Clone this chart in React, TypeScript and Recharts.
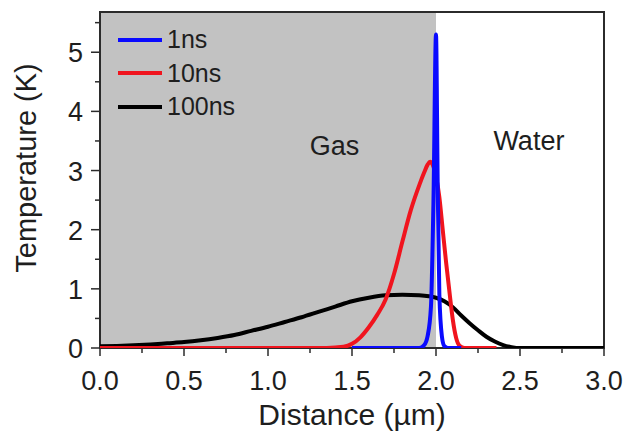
import {
  LineChart,
  Line,
  XAxis,
  YAxis,
  ReferenceArea,
  ReferenceDot,
  Legend,
  Label,
} from "recharts";

const FONT = '"Liberation Sans", Arial, Helvetica, sans-serif';
const AXIS = "#2b2b2b";
const TEXT = "#1e1e1e";

// distance (µm) / temperature rise (K) per pulse delay
const dist1ns = [1.5, 1.9, 1.93, 1.95, 1.97, 1.985, 2.0, 2.01, 2.02, 2.035, 2.05, 2.07, 2.15];
const temp1ns = [0, 0, 0.05, 0.2, 0.7, 2.5, 5.3, 2.8, 0.9, 0.2, 0.03, 0, 0];

const dist10ns = [
  0, 1.35, 1.45, 1.5, 1.55, 1.6, 1.65, 1.7, 1.75, 1.8, 1.85, 1.9, 1.93, 1.95,
  1.965, 1.98, 2.0, 2.02, 2.04, 2.06, 2.08, 2.1, 2.12, 2.14, 2.17, 2.36,
];
const temp10ns = [
  0, 0, 0.02, 0.07, 0.18, 0.35, 0.56, 0.82, 1.25, 1.8, 2.33, 2.75, 2.97, 3.1,
  3.15, 3.1, 2.9, 2.55, 2.0, 1.45, 0.95, 0.48, 0.17, 0.04, 0, 0,
];

const dist100ns = [
  0, 0.1, 0.2, 0.3, 0.4, 0.5, 0.6, 0.7, 0.8, 0.9, 1.0, 1.1, 1.2, 1.3, 1.4, 1.5,
  1.6, 1.7, 1.8, 1.9, 2.0, 2.05, 2.1, 2.15, 2.2, 2.25, 2.3, 2.35, 2.4, 2.45, 2.5, 3.0,
];
const temp100ns = [
  0.03, 0.035, 0.045, 0.06, 0.08, 0.1, 0.13, 0.17, 0.22, 0.29, 0.36, 0.44, 0.52,
  0.61, 0.7, 0.79, 0.85, 0.89, 0.9, 0.89, 0.85, 0.79, 0.69, 0.55, 0.42, 0.3,
  0.19, 0.11, 0.05, 0.015, 0, 0,
];

const xTicks = [0, 0.25, 0.5, 0.75, 1, 1.25, 1.5, 1.75, 2, 2.25, 2.5, 2.75, 3];
const yTicks = [0, 0.5, 1, 1.5, 2, 2.5, 3, 3.5, 4, 4.5, 5, 5.5];

const X_MAX = 3;
const Y_MAX = 5.68;
const GAS_EDGE = 2;

const toPoints = (xs: number[], ys: number[]) =>
  xs.map((x, i) => ({ x, y: ys[i] }));

const series = [
  { name: "100ns", color: "#000000", data: toPoints(dist100ns, temp100ns) },
  { name: "10ns", color: "#f0141e", data: toPoints(dist10ns, temp10ns) },
  { name: "1ns", color: "#0a0aff", data: toPoints(dist1ns, temp1ns) },
];
const legendOrder = ["1ns", "10ns", "100ns"];

const isMajor = (v: number) => Math.abs(v * 2 - Math.round(v * 2)) < 1e-6;
const isInt = (v: number) => Math.abs(v - Math.round(v)) < 1e-6;

function BottomTick({ x, y, payload }: any) {
  const major = isMajor(payload.value);
  return (
    <g>
      <line x1={x} x2={x} y1={y} y2={y + (major ? 8 : 5)} stroke={AXIS} strokeWidth={1.5} />
      {major && (
        <text x={x} y={y + 42} textAnchor="middle" fontSize={27} fontFamily={FONT} fill={TEXT}>
          {payload.value.toFixed(1)}
        </text>
      )}
    </g>
  );
}

function TopTick({ x, y, payload }: any) {
  const len = isMajor(payload.value) ? 8 : 5;
  return <line x1={x} x2={x} y1={y} y2={y + len} stroke={AXIS} strokeWidth={1.5} />;
}

function LeftTick({ x, y, payload }: any) {
  const major = isInt(payload.value);
  return (
    <g>
      <line x1={x - (major ? 9 : 5)} x2={x} y1={y} y2={y} stroke={AXIS} strokeWidth={1.5} />
      {major && (
        <text x={x - 17} y={y + 10} textAnchor="end" fontSize={27} fontFamily={FONT} fill={TEXT}>
          {payload.value}
        </text>
      )}
    </g>
  );
}

function RightTick({ x, y, payload }: any) {
  const len = isInt(payload.value) ? 8 : 4;
  return <line x1={x - len} x2={x} y1={y} y2={y} stroke={AXIS} strokeWidth={1.5} />;
}

function LegendBox({ payload }: any) {
  const items = legendOrder
    .map((n) => (payload || []).find((p: any) => p.value === n))
    .filter(Boolean);
  return (
    <div style={{ fontFamily: FONT, fontSize: 25, color: TEXT }}>
      {items.map((p: any) => (
        <div key={p.value} style={{ display: "flex", alignItems: "center", height: 33.5 }}>
          <span
            style={{
              display: "inline-block",
              width: 44,
              height: 4,
              background: p.color,
              marginRight: 5,
            }}
          />
          {p.value}
        </div>
      ))}
    </div>
  );
}

export default function App() {
  return (
    <div style={{ position: "absolute", left: 0, top: 0 }}>
      <LineChart
        width={628}
        height={434}
        margin={{ top: 12, right: 24, bottom: 0, left: 0 }}
        style={{ background: "#fff" }}
      >
        <ReferenceArea
          x1={0}
          x2={GAS_EDGE}
          y1={0}
          y2={Y_MAX}
          fill="#c2c2c2"
          fillOpacity={1}
          stroke="none"
        />
        <XAxis
          dataKey="x"
          type="number"
          domain={[0, X_MAX]}
          ticks={xTicks}
          interval={0}
          allowDataOverflow
          height={86}
          tickSize={0}
          tickMargin={0}
          tickLine={false}
          tick={<BottomTick />}
          axisLine={false}
        >
          <Label
            content={({ viewBox }: any) => (
              <text
                x={viewBox.x + viewBox.width / 2}
                y={viewBox.y + 77}
                textAnchor="middle"
                fontSize={30}
                fontFamily={FONT}
                fill={TEXT}
              >
                Distance (µm)
              </text>
            )}
          />
        </XAxis>
        <XAxis
          xAxisId="top"
          orientation="top"
          type="number"
          domain={[0, X_MAX]}
          ticks={xTicks}
          interval={0}
          allowDataOverflow
          height={0}
          tickSize={0}
          tickMargin={0}
          tickLine={false}
          tick={<TopTick />}
          axisLine={false}
        />
        <YAxis
          type="number"
          domain={[0, Y_MAX]}
          ticks={yTicks}
          interval={0}
          allowDataOverflow
          width={100}
          tickSize={0}
          tickMargin={0}
          tickLine={false}
          tick={<LeftTick />}
          axisLine={false}
        >
          <Label
            content={({ viewBox }: any) => {
              const cx = viewBox.x + 26;
              const cy = viewBox.y + viewBox.height / 2 - 12;
              return (
                <text
                  x={cx}
                  y={cy}
                  transform={`rotate(-90 ${cx} ${cy})`}
                  textAnchor="middle"
                  dominantBaseline="central"
                  fontSize={29}
                  fontFamily={FONT}
                  fill={TEXT}
                >
                  Temperature (K)
                </text>
              );
            }}
          />
        </YAxis>
        <YAxis
          yAxisId="right"
          orientation="right"
          type="number"
          domain={[0, Y_MAX]}
          ticks={yTicks}
          interval={0}
          allowDataOverflow
          width={0}
          tickSize={0}
          tickMargin={0}
          tickLine={false}
          tick={<RightTick />}
          axisLine={false}
        />
        {series.map((s) => (
          <Line
            key={s.name}
            data={s.data}
            dataKey="y"
            name={s.name}
            type="monotone"
            stroke={s.color}
            strokeWidth={4}
            dot={false}
            activeDot={false}
            isAnimationActive={false}
          />
        ))}
        {/* plot frame */}
        <ReferenceArea
          x1={0}
          x2={X_MAX}
          y1={0}
          y2={Y_MAX}
          fill="none"
          stroke={AXIS}
          strokeWidth={2}
          ifOverflow="visible"
        />
        <ReferenceDot
          x={1.396}
          y={3.43}
          r={0}
          fill="none"
          stroke="none"
          label={{ value: "Gas", position: "center", fontSize: 27, fontFamily: FONT, fill: TEXT }}
        />
        <ReferenceDot
          x={2.553}
          y={3.51}
          r={0}
          fill="none"
          stroke="none"
          label={{ value: "Water", position: "center", fontSize: 27, fontFamily: FONT, fill: TEXT }}
        />
        <Legend
          layout="vertical"
          align="center"
          verticalAlign="middle"
          content={<LegendBox />}
          wrapperStyle={{ left: 118, top: 23, width: "auto" }}
        />
      </LineChart>
    </div>
  );
}
